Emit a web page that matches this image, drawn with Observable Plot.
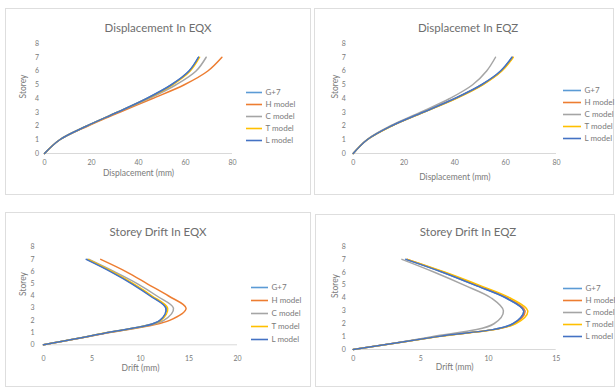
<!DOCTYPE html>
<html><head><meta charset="utf-8">
<script src="https://cdn.jsdelivr.net/npm/d3@7"></script>
<script src="https://cdn.jsdelivr.net/npm/@observablehq/plot@0.6"></script>
<style>
html,body{margin:0;padding:0;background:#fff;}
#root{position:relative;width:615px;height:387px;overflow:hidden;background:#fff;font-family:Lato,"Open Sans",sans-serif;}
.panel{position:absolute;border:1px solid #dedede;box-sizing:border-box;}
.title{position:absolute;transform:translate(-50%,-50%);font-size:11.5px;color:#6e6e6e;white-space:nowrap;}
.abs{position:absolute;left:0;top:0;}
</style></head>
<body><div id="root"></div>
<script>
const storeys = [0, 1, 2, 3, 4, 5, 6, 7];
const series = ["G+7", "H model", "C model", "T model", "L model"];
const colors = ["#5B9BD5", "#ED7D31", "#A5A5A5", "#FFC000", "#4472C4"];
const storeyTicks = [0, 1, 2, 3, 4, 5, 6, 7, 8];
const dispTicks = [0, 20, 40, 60, 80];
const driftXTicks = [0, 5, 10, 15, 20];
const driftZTicks = [0, 5, 10, 15];

// Displacement in EQX (mm)
const dispEQX_G7 = [0, 6.5, 18, 31, 43.5, 54, 61.5, 65.5];
const dispEQX_H  = [0, 6.5, 18.5, 32, 46, 59.5, 69.5, 75.5];
const dispEQX_C  = [0, 6.5, 18, 31, 44.5, 56, 64.5, 68.8];
const dispEQX_T  = [0, 6.5, 18, 31, 43.8, 54.5, 62, 66];
const dispEQX_L  = [0, 6.5, 18, 31, 43.5, 54, 61.5, 65.5];
// Displacement in EQZ (mm)
const dispEQZ_G7 = [0, 5.5, 15, 27.5, 40, 50.5, 58, 62.5];
const dispEQZ_H  = [0, 5.5, 15, 27.5, 40.2, 50.8, 58.3, 62.8];
const dispEQZ_C  = [0, 5.3, 14.5, 26.5, 38, 47, 52.5, 56];
const dispEQZ_T  = [0, 5.5, 15.2, 27.8, 40.5, 51, 58.5, 63];
const dispEQZ_L  = [0, 5.5, 15, 27.5, 40, 50.5, 58, 62.5];
// Storey drift in EQX (mm)
const driftEQX_G7 = [0, 6.6, 12.0, 12.7, 11.1, 9.2, 7.0, 4.5];
const driftEQX_H  = [0, 6.8, 13.0, 14.7, 12.9, 10.7, 8.5, 5.9];
const driftEQX_C  = [0, 6.7, 12.4, 13.4, 11.7, 9.7, 7.3, 4.7];
const driftEQX_T  = [0, 6.6, 12.1, 12.8, 11.2, 9.3, 7.1, 4.6];
const driftEQX_L  = [0, 6.6, 12.0, 12.6, 11.0, 9.1, 6.9, 4.4];
// Storey drift in EQZ (mm)
const driftEQZ_G7 = [0, 6.2, 11.8, 12.6, 11.3, 9.0, 6.6, 3.9];
const driftEQZ_H  = [0, 6.2, 11.9, 12.7, 11.4, 9.1, 6.7, 4.0];
const driftEQZ_C  = [0, 5.8, 10.4, 11.1, 10.2, 8.2, 6.0, 3.6];
const driftEQZ_T  = [0, 6.3, 12.0, 12.9, 11.6, 9.3, 6.8, 4.0];
const driftEQZ_L  = [0, 6.2, 11.8, 12.6, 11.3, 9.0, 6.6, 3.9];

function table(arrays) {
  const rows = [];
  arrays.forEach((arr, i) => arr.forEach((v, j) => rows.push({series: series[i], storey: storeys[j], v})));
  return rows;
}

const panels = [
  {title: "Displacement In EQX", box: [5, 8, 306, 187], plot: [44, 43, 232, 153],
   data: table([dispEQX_G7, dispEQX_H, dispEQX_C, dispEQX_T, dispEQX_L]),
   xDomain: [0, 80], xTicks: dispTicks, xLabel: "Displacement (mm)",
   titleXY: [158, 27], xtp: 7, ytp: 5.5, xlDy: 22, ylDx: -21,
   legend: [246, 262, 85, 147]},
  {title: "Displacemet In EQZ", box: [314, 8, 300, 187], plot: [352.7, 43, 556, 153],
   data: table([dispEQZ_G7, dispEQZ_H, dispEQZ_C, dispEQZ_T, dispEQZ_L]),
   xDomain: [0, 80], xTicks: dispTicks, xLabel: "Displacement (mm)",
   titleXY: [468, 27], xtp: 7, ytp: 7.5, xlDy: 26, ylDx: -18,
   legend: [563, 581, 82, 146]},
  {title: "Storey Drift In EQX", box: [5, 212, 306, 175], plot: [43, 246.7, 237, 344.3],
   data: table([driftEQX_G7, driftEQX_H, driftEQX_C, driftEQX_T, driftEQX_L]),
   xDomain: [0, 20], xTicks: driftXTicks, xLabel: "Drift (mm)",
   titleXY: [158, 231], xtp: 11, ytp: 9, xlDy: 26, ylDx: -20,
   legend: [251, 268, 279, 347]},
  {title: "Storey Drift In EQZ", box: [315, 214, 300, 173], plot: [352.7, 246, 555.7, 349],
   data: table([driftEQZ_G7, driftEQZ_H, driftEQZ_C, driftEQZ_T, driftEQZ_L]),
   xDomain: [0, 15], xTicks: driftZTicks, xLabel: "Drift (mm)",
   titleXY: [468, 231], xtp: 7, ytp: 7.5, xlDy: 20, ylDx: -18,
   legend: [563, 582, 282, 342]}
];

const root = document.getElementById("root");
const W = 615, H = 387;
const txt = "#7a7a7a";

for (const p of panels) {
  const b = document.createElement("div");
  b.className = "panel";
  Object.assign(b.style, {left: p.box[0] + "px", top: p.box[1] + "px", width: p.box[2] + "px", height: p.box[3] + "px"});
  root.appendChild(b);

  const t = document.createElement("div");
  t.className = "title";
  t.textContent = p.title;
  t.style.left = p.titleXY[0] + "px";
  t.style.top = p.titleXY[1] + "px";
  root.appendChild(t);

  const [x0, y0, x1, y1] = p.plot;
  const chart = Plot.plot({
    width: W, height: H,
    marginLeft: x0, marginTop: y0, marginRight: W - x1, marginBottom: H - y1,
    style: {fontFamily: "Lato, 'Open Sans', sans-serif", color: txt, background: "transparent", overflow: "visible"},
    x: {domain: p.xDomain},
    y: {domain: [0, 8]},
    color: {domain: series, range: colors},
    marks: [
      Plot.ruleY([0], {stroke: "#d9d9d9", strokeWidth: 1}),
      Plot.axisX({ticks: p.xTicks, tickSize: 0, tickPadding: p.xtp, label: null, fontSize: 7, fill: txt}),
      Plot.axisY({ticks: storeyTicks, tickSize: 0, tickPadding: p.ytp, label: null, fontSize: 7, fill: txt}),
      Plot.text([p.xLabel], {frameAnchor: "bottom", dy: p.xlDy, fontSize: 8.5, fill: txt}),
      Plot.text(["Storey"], {frameAnchor: "left", dx: p.ylDx, rotate: -90, fontSize: 8.5, fill: txt}),
      Plot.line(p.data, {x: "v", y: "storey", z: "series", stroke: "series", curve: "catmull-rom", strokeWidth: 1.5})
    ]
  });
  chart.classList.add("abs");
  root.appendChild(chart);

  const [lx0, lx1, ly0, ly1] = p.legend;
  const legend = Plot.plot({
    width: W, height: H, margin: 0,
    style: {fontFamily: "Lato, 'Open Sans', sans-serif", background: "transparent", overflow: "visible"},
    x: {domain: [0, 1], range: [lx0, lx1], axis: null},
    y: {type: "point", domain: series, range: [ly0, ly1], axis: null},
    color: {domain: series, range: colors},
    marks: [
      Plot.ruleY(series, {y: d => d, x1: 0, x2: 1, stroke: d => d, strokeWidth: 1.6}),
      Plot.text(series, {y: d => d, x: 1, text: d => d, dx: 3, textAnchor: "start", fontSize: 8, fill: txt})
    ]
  });
  legend.classList.add("abs");
  root.appendChild(legend);
}
</script></body></html>
